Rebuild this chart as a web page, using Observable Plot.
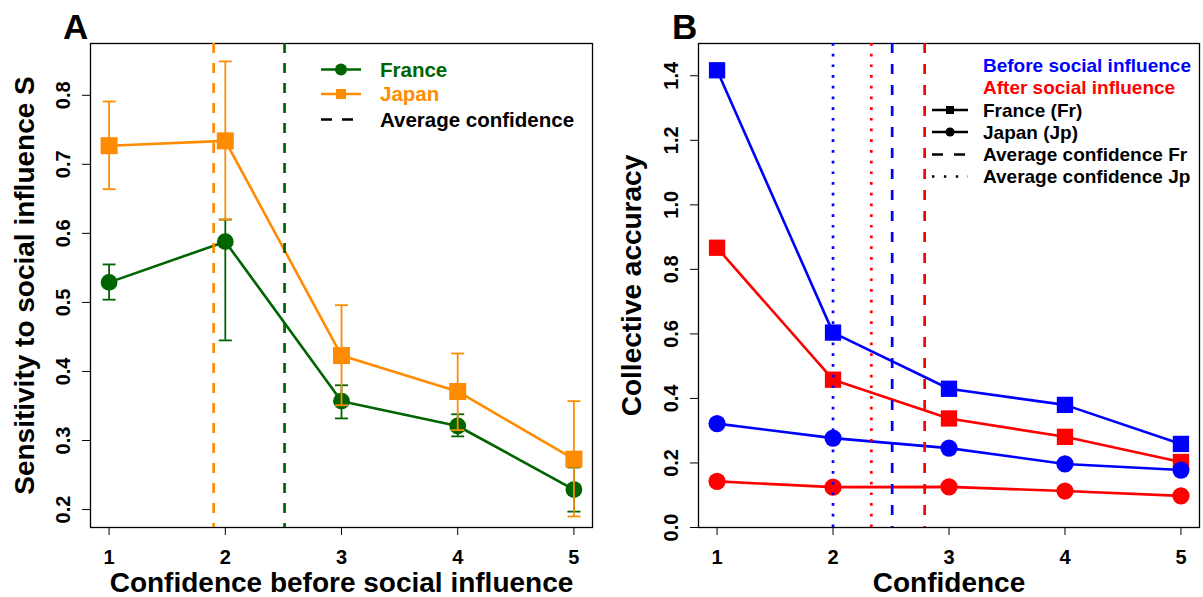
<!DOCTYPE html>
<html><head><meta charset="utf-8">
<script src="https://cdn.jsdelivr.net/npm/d3@7"></script>
<script src="https://cdn.jsdelivr.net/npm/@observablehq/plot@0.6"></script>
<style>
body{margin:0;background:#fff;}
#wrap{display:flex;width:1203px;height:597px;overflow:hidden;}
.panel{position:relative;}
</style></head><body><div id="wrap"><div class="panel" id="pa"></div><div class="panel" id="pb"></div></div>
<script>
// ---------- Data ----------
const confidence = [1, 2, 3, 4, 5];
const xTicks = [1, 2, 3, 4, 5];

// Panel A: sensitivity to social influence S
const franceS  = [0.529, 0.588, 0.357, 0.321, 0.229];
const franceLo = [0.504, 0.445, 0.332, 0.306, 0.197];
const franceHi = [0.555, 0.620, 0.380, 0.338, 0.261];
const japanS   = [0.727, 0.734, 0.423, 0.371, 0.273];
const japanLo  = [0.664, 0.620, 0.351, 0.315, 0.190];
const japanHi  = [0.791, 0.849, 0.496, 0.426, 0.357];
const avgConfA = [{country: "Japan", value: 1.90}, {country: "France", value: 2.51}];
const yTicksA = [0.2, 0.3, 0.4, 0.5, 0.6, 0.7, 0.8];
const legendA = ["France", "Japan", "Average confidence"];

// Panel B: collective accuracy
const franceBefore = [1.417, 0.604, 0.430, 0.380, 0.259];
const franceAfter  = [0.867, 0.458, 0.338, 0.281, 0.203];
const japanBefore  = [0.322, 0.277, 0.246, 0.197, 0.178];
const japanAfter   = [0.143, 0.125, 0.126, 0.113, 0.098];
const avgConfFr = [{when: "before", value: 2.51}, {when: "after", value: 2.79}];
const avgConfJp = [{when: "before", value: 2.00}, {when: "after", value: 2.33}];
const yTicksB = [0.0, 0.2, 0.4, 0.6, 0.8, 1.0, 1.2, 1.4];
const legendB = ["Before social influence", "After social influence", "France (Fr)", "Japan (Jp)", "Average confidence Fr", "Average confidence Jp"];

// ---------- Styles ----------
const GREEN = "#006400", ORANGE = "#FF8C00", BLUE = "#0000FF", RED = "#FF0000";
const FONT = '"Liberation Sans", Arial, Helvetica, sans-serif';
const style = {fontFamily: FONT, fontWeight: "bold", fontSize: "20px", background: "white", color: "black", overflow: "visible"};
const capSymbol = {draw(ctx, size) { const r = Math.sqrt(size / Math.PI); ctx.moveTo(-r, 0); ctx.lineTo(r, 0); }};

function rows(ys, lo, hi) {
  return confidence.map((c, i) => ({c, y: ys[i], lo: lo ? lo[i] : null, hi: hi ? hi[i] : null}));
}
function axesMarks(yTicks, fmt, xTitle, yTitle, yTitleDx) {
  return [
    Plot.frame({stroke: "black", strokeWidth: 1.3}),
    Plot.axisX(xTicks, {tickSize: 8, tickPadding: 14, label: null, fontSize: 20, tickFormat: d => `${d}`}),
    Plot.axisY(yTicks, {tickSize: 8, label: null, tickFormat: () => ""}),
    Plot.text(yTicks, {y: d => d, text: fmt, frameAnchor: "left", rotate: -90, dx: -27, fontSize: 20, textAnchor: "middle", lineAnchor: "middle"}),
    Plot.text([xTitle], {text: d => d, frameAnchor: "bottom", dy: 56, fontSize: 28, textAnchor: "middle", lineAnchor: "middle"}),
    Plot.text([yTitle], {text: d => d, frameAnchor: "left", rotate: -90, dx: yTitleDx, fontSize: 28, textAnchor: "middle", lineAnchor: "middle"})
  ];
}
function seriesMarks(data, color, symbol, r, withErr) {
  const m = [];
  if (withErr) {
    m.push(Plot.ruleX(data, {x: "c", y1: "lo", y2: "hi", stroke: color, strokeWidth: 1.8}));
    m.push(Plot.dot(data, {x: "c", y: "lo", symbol: capSymbol, r: 6.5, stroke: color, strokeWidth: 1.8, fill: "none"}));
    m.push(Plot.dot(data, {x: "c", y: "hi", symbol: capSymbol, r: 6.5, stroke: color, strokeWidth: 1.8, fill: "none"}));
  }
  m.push(Plot.line(data, {x: "c", y: "y", stroke: color, strokeWidth: 2.6}));
  m.push(Plot.dot(data, {x: "c", y: "y", symbol, r, fill: color, stroke: "none"}));
  return m;
}

// ---------- Panel A ----------
const colorA = {France: GREEN, Japan: ORANGE};
const svgA = Plot.plot({
  width: 600, height: 597,
  marginLeft: 90, marginRight: 8, marginTop: 43, marginBottom: 70,
  x: {domain: [0.84, 5.16]},
  y: {domain: [0.174, 0.875]},
  style,
  marks: [
    ...axesMarks(yTicksA, d => d.toFixed(1), "Confidence before social influence", "Sensitivity to social influence S", -65),
    ...seriesMarks(rows(franceS, franceLo, franceHi), GREEN, "circle", 8.4, true),
    ...seriesMarks(rows(japanS, japanLo, japanHi), ORANGE, "square", 9.6, true),
    Plot.ruleX(avgConfA, {x: "value", stroke: d => colorA[d.country], strokeWidth: 2.7, strokeDasharray: "10,10"})
  ]
});
document.getElementById("pa").appendChild(svgA);

// ---------- Panel B ----------
const whenColor = d => d.when === "before" ? BLUE : RED;
const svgB = Plot.plot({
  width: 603, height: 597,
  marginLeft: 98, marginRight: 4, marginTop: 43, marginBottom: 70,
  x: {domain: [0.84, 5.16]},
  y: {domain: [0, 1.5]},
  style,
  marks: [
    ...axesMarks(yTicksB, d => d.toFixed(1), "Confidence", "Collective accuracy", -66),
    ...seriesMarks(rows(franceBefore), BLUE, "square", 9.2, false),
    ...seriesMarks(rows(franceAfter), RED, "square", 9.2, false),
    ...seriesMarks(rows(japanBefore), BLUE, "circle", 8.6, false),
    ...seriesMarks(rows(japanAfter), RED, "circle", 8.6, false),
    Plot.ruleX(avgConfJp, {x: "value", stroke: whenColor, strokeWidth: 2.7, strokeDasharray: "2.7,8"}),
    Plot.ruleX(avgConfFr, {x: "value", stroke: whenColor, strokeWidth: 2.7, strokeDasharray: "10,11"})
  ]
});
document.getElementById("pb").appendChild(svgB);

// ---------- Panel letters & legends ----------
function letter(svg, t, x) {
  d3.select(svg).append("text").attr("x", x).attr("y", 38.5).attr("font-size", 35).attr("font-weight", "bold")
    .attr("text-anchor", "start").attr("font-family", FONT).attr("fill", "black").text(t);
}
letter(svgA, "A", 63);
letter(svgB, "B", 72);

// Legend A
{
  const g = d3.select(svgA).append("g").attr("font-family", FONT).attr("font-weight", "bold").attr("font-size", 20.5).attr("text-anchor", "start");
  const ys = [69.5, 94, 119.5];
  const cols = [GREEN, ORANGE, "black"];
  legendA.forEach((t, i) => {
    g.append("text").attr("x", 380).attr("y", ys[i] + 7.4).attr("fill", cols[i]).text(t);
  });
  g.append("line").attr("x1", 321).attr("x2", 361).attr("y1", ys[0]).attr("y2", ys[0]).attr("stroke", GREEN).attr("stroke-width", 2.6);
  g.append("circle").attr("cx", 341).attr("cy", ys[0]).attr("r", 6).attr("fill", GREEN);
  g.append("line").attr("x1", 321).attr("x2", 361).attr("y1", ys[1]).attr("y2", ys[1]).attr("stroke", ORANGE).attr("stroke-width", 2.6);
  g.append("rect").attr("x", 341 - 5).attr("y", ys[1] - 5).attr("width", 10).attr("height", 10).attr("fill", ORANGE);
  g.append("line").attr("x1", 321).attr("x2", 354).attr("y1", ys[2]).attr("y2", ys[2]).attr("stroke", "black").attr("stroke-width", 2.7).attr("stroke-dasharray", "11,10");
}
// Legend B
{
  const g = d3.select(svgB).append("g").attr("font-family", FONT).attr("font-weight", "bold").attr("font-size", 19).attr("text-anchor", "start");
  const ys = [65, 87.5, 110, 132, 154.5, 176.5];
  const cols = [BLUE, RED, "black", "black", "black", "black"];
  legendB.forEach((t, i) => {
    g.append("text").attr("x", 383).attr("y", ys[i] + 6.8).attr("fill", cols[i]).text(t);
  });
  const lx1 = 332, lx2 = 368, mx = 350;
  g.append("line").attr("x1", lx1).attr("x2", lx2).attr("y1", ys[2]).attr("y2", ys[2]).attr("stroke", "black").attr("stroke-width", 2.6);
  g.append("rect").attr("x", mx - 4).attr("y", ys[2] - 4).attr("width", 8).attr("height", 8).attr("fill", "black");
  g.append("line").attr("x1", lx1).attr("x2", lx2).attr("y1", ys[3]).attr("y2", ys[3]).attr("stroke", "black").attr("stroke-width", 2.6);
  g.append("circle").attr("cx", mx).attr("cy", ys[3]).attr("r", 4.6).attr("fill", "black");
  g.append("line").attr("x1", lx1).attr("x2", lx2 - 2).attr("y1", ys[4]).attr("y2", ys[4]).attr("stroke", "black").attr("stroke-width", 2.7).attr("stroke-dasharray", "11,11");
  g.append("line").attr("x1", lx1).attr("x2", lx2).attr("y1", ys[5]).attr("y2", ys[5]).attr("stroke", "black").attr("stroke-width", 2.7).attr("stroke-dasharray", "2.4,9.5");
}
</script>
</body></html>
